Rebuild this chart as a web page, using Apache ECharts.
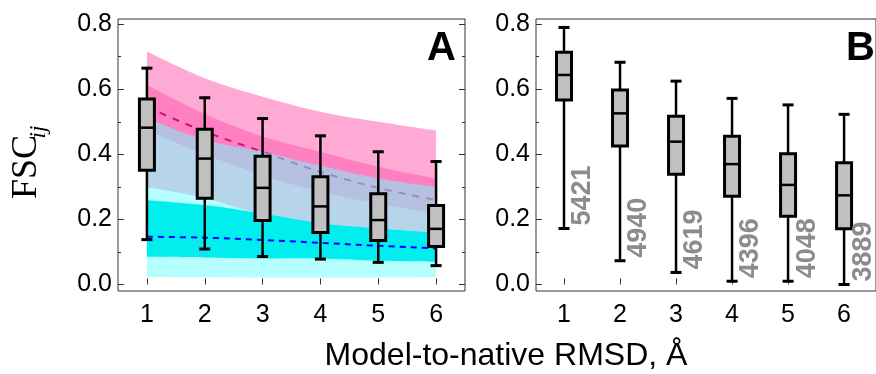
<!DOCTYPE html>
<html>
<head>
<meta charset="utf-8">
<script src="https://cdn.jsdelivr.net/npm/echarts@6/dist/echarts.min.js"></script>
<style>
  html, body { margin: 0; padding: 0; background: #fff; }
  #chart { width: 876px; height: 374px; }
</style>
</head>
<body>
<div id="chart"></div>
<script>
const rmsd = [1, 2, 3, 4, 5, 6]
const yTicks = [0, 0.2, 0.4, 0.6, 0.8]
const yMinorTicks = [0.1, 0.3, 0.5, 0.7]

// panel A box plots
const aMin = [0.138, 0.109, 0.086, 0.078, 0.068, 0.058]
const aQ1 = [0.351, 0.265, 0.197, 0.160, 0.135, 0.117]
const aMed = [0.482, 0.387, 0.297, 0.240, 0.198, 0.171]
const aQ3 = [0.570, 0.477, 0.394, 0.331, 0.279, 0.243]
const aMax = [0.665, 0.574, 0.510, 0.457, 0.408, 0.378]

// panel B box plots + counts
const bMin = [0.172, 0.073, 0.037, 0.010, 0.010, 0.000]
const bQ1 = [0.567, 0.426, 0.339, 0.271, 0.210, 0.171]
const bMed = [0.644, 0.526, 0.439, 0.370, 0.306, 0.274]
const bQ3 = [0.714, 0.598, 0.517, 0.456, 0.402, 0.374]
const bMax = [0.790, 0.683, 0.625, 0.572, 0.552, 0.523]
const bCounts = [5421, 4940, 4619, 4396, 4048, 3889]

// panel A shaded bands
const pinkOuterTop = [0.716, 0.634, 0.577, 0.531, 0.500, 0.473]
const pinkOuterBottom = [0.300, 0.266, 0.215, 0.185, 0.165, 0.150]
const pinkInnerTop = [0.613, 0.524, 0.455, 0.408, 0.362, 0.326]
const pinkInnerBottom = [0.475, 0.400, 0.335, 0.285, 0.248, 0.218]
const pinkMedian = [0.545, 0.470, 0.408, 0.346, 0.297, 0.259]
const cyanOuterTop = [0.511, 0.444, 0.408, 0.365, 0.326, 0.300]
const cyanOuterBottom = [0.023, 0.022, 0.021, 0.021, 0.021, 0.022]
const cyanInnerTop = [0.259, 0.244, 0.218, 0.188, 0.172, 0.159]
const cyanInnerBottom = [0.085, 0.083, 0.080, 0.080, 0.073, 0.070]
const blueMedian = [0.147, 0.144, 0.137, 0.128, 0.119, 0.111]

const font = '"Liberation Sans", Arial, sans-serif'
const serif = '"Liberation Serif", "Times New Roman", serif'

// smooth path through pixel points (catmull-rom -> bezier)
function curve(pts, cmd) {
  let d = cmd + pts[0][0] + ' ' + pts[0][1]
  for (let i = 0; i < pts.length - 1; i++) {
    const p0 = pts[i - 1] || pts[i]
    const p1 = pts[i]
    const p2 = pts[i + 1]
    const p3 = pts[i + 2] || p2
    const c1 = [p1[0] + (p2[0] - p0[0]) / 6, p1[1] + (p2[1] - p0[1]) / 6]
    const c2 = [p2[0] - (p3[0] - p1[0]) / 6, p2[1] - (p3[1] - p1[1]) / 6]
    d += ' C' + c1[0] + ' ' + c1[1] + ' ' + c2[0] + ' ' + c2[1] + ' ' + p2[0] + ' ' + p2[1]
  }
  return d
}

function band(lower, upper, fill, opacity) {
  return {
    type: 'custom', xAxisIndex: 0, yAxisIndex: 0, silent: true, z: 2,
    data: rmsd.map((x, i) => [x, lower[i], upper[i]]),
    encode: { x: 0, y: [1, 2] },
    renderItem: (params, api) => {
      if (params.dataIndexInside !== 0) return null
      const n = params.dataInsideLength
      const top = []
      const bot = []
      for (let i = 0; i < n; i++) {
        top.push(api.coord([api.value(0, i), api.value(2, i)]))
        bot.push(api.coord([api.value(0, i), api.value(1, i)]))
      }
      const d = curve(top, 'M') + ' ' + curve(bot.reverse(), 'L') + ' Z'
      return { type: 'path', shape: { pathData: d }, style: { fill, opacity } }
    }
  }
}

function medianLine(values, color, dash) {
  return {
    type: 'custom', xAxisIndex: 0, yAxisIndex: 0, silent: true, z: 2,
    data: rmsd.map((x, i) => [x, values[i]]),
    encode: { x: 0, y: 1 },
    renderItem: (params, api) => {
      if (params.dataIndexInside !== 0) return null
      const pts = []
      for (let i = 0; i < params.dataInsideLength; i++) {
        pts.push(api.coord([api.value(0, i), api.value(1, i)]))
      }
      return {
        type: 'path', shape: { pathData: curve(pts, 'M') },
        style: { fill: null, stroke: color, lineWidth: 2, lineDash: dash }
      }
    }
  }
}

function boxes(axisIdx, yIdx, mins, q1s, meds, q3s, maxs, counts) {
  return {
    type: 'custom', xAxisIndex: axisIdx, yAxisIndex: yIdx, silent: true, z: 5,
    data: rmsd.map((x, i) => [x, mins[i], q1s[i], meds[i], q3s[i], maxs[i]]),
    encode: { x: 0, y: [1, 2, 3, 4, 5] },
    renderItem: (params, api) => {
      const x = api.value(0)
      const pMin = api.coord([x, api.value(1)])
      const pQ1 = api.coord([x, api.value(2)])
      const pMed = api.coord([x, api.value(3)])
      const pQ3 = api.coord([x, api.value(4)])
      const pMax = api.coord([x, api.value(5)])
      const hw = 7.5
      const cw = 5.5
      const line = (x1, y1, x2, y2, w) => ({
        type: 'line', shape: { x1, y1, x2, y2 }, style: { stroke: '#000', lineWidth: w }
      })
      const children = [
        line(pMax[0], pMax[1], pMin[0], pMin[1], 2.5),
        line(pMax[0] - cw, pMax[1], pMax[0] + cw, pMax[1], 3),
        line(pMin[0] - cw, pMin[1], pMin[0] + cw, pMin[1], 3),
        {
          type: 'rect',
          shape: { x: pQ3[0] - hw, y: pQ3[1], width: hw * 2, height: pQ1[1] - pQ3[1] },
          style: { fill: '#c0c0c0', stroke: '#000', lineWidth: 3 }
        },
        line(pMed[0] - hw, pMed[1], pMed[0] + hw, pMed[1], 2.5)
      ]
      if (counts) {
        children.push({
          type: 'text', x: pMin[0] + 19, y: pMin[1] - 3, rotation: Math.PI / 2,
          style: {
            text: String(counts[params.dataIndex]), align: 'left', verticalAlign: 'middle',
            fill: '#8c8c8c', font: 'bold 27px ' + font
          }
        })
      }
      return { type: 'group', children }
    }
  }
}

function xAxis(grid, max) {
  return {
    gridIndex: grid, type: 'value', min: 0.5, max: max,
    axisLine: { show: false }, splitLine: { show: false },
    axisTick: { inside: true, length: 6, customValues: rmsd, lineStyle: { color: '#333' } },
    axisLabel: { customValues: rmsd, margin: 12, fontSize: 25, color: '#000', fontFamily: font }
  }
}

function yAxis(grid, position, values, len, labels) {
  return {
    gridIndex: grid, type: 'value', min: -0.02, max: 0.816, position: position,
    axisLine: { show: false }, splitLine: { show: false },
    axisTick: { inside: true, length: len, customValues: values, lineStyle: { color: '#333' } },
    axisLabel: {
      show: labels, customValues: values, margin: 6, fontSize: 25, color: '#000',
      fontFamily: font, formatter: v => v.toFixed(1)
    }
  }
}

const chart = echarts.init(document.getElementById('chart'))
const option = {
  animation: false,
  grid: [
    { left: 118, top: 19, width: 347, bottom: 83, show: true, borderColor: '#333', borderWidth: 1 },
    { left: 536, top: 19, width: 342, bottom: 83, show: true, borderColor: '#333', borderWidth: 1 }
  ],
  xAxis: [xAxis(0, 6.5), xAxis(1, 6.57)],
  yAxis: [
    yAxis(0, 'left', yTicks, 6, true),
    yAxis(0, 'left', yMinorTicks, 3, false),
    yAxis(0, 'right', yTicks, 6, false),
    yAxis(0, 'right', yMinorTicks, 3, false),
    yAxis(1, 'left', yTicks, 6, true),
    yAxis(1, 'left', yMinorTicks, 3, false)
  ],
  series: [
    band(pinkOuterBottom, pinkOuterTop, '#ffaad5', 1),
    band(pinkInnerBottom, pinkInnerTop, '#ff80c0', 1),
    medianLine(pinkMedian, '#c8186e', [7, 7]),
    band(cyanOuterBottom, cyanOuterTop, 'rgb(110,255,255)', 0.5),
    band(cyanInnerBottom, cyanInnerTop, '#00eeee', 1),
    medianLine(blueMedian, '#0000ff', [6, 5]),
    boxes(0, 0, aMin, aQ1, aMed, aQ3, aMax, null),
    boxes(1, 4, bMin, bQ1, bMed, bQ3, bMax, bCounts)
  ],
  graphic: [
    { type: 'text', z: 100, x: 441.5, y: 48.5, style: { text: 'A', font: 'bold 40px ' + font, fill: '#000', align: 'center', verticalAlign: 'middle' } },
    { type: 'text', z: 100, x: 846, y: 49, style: { text: 'B', font: 'bold 40px ' + font, fill: '#000', align: 'left', verticalAlign: 'middle' } },
    { type: 'text', z: 100, x: 27, y: 167, rotation: Math.PI / 2, style: { text: 'FSC', font: '36px ' + serif, fill: '#000', align: 'center', verticalAlign: 'middle' } },
    { type: 'text', z: 100, x: 39, y: 132, rotation: Math.PI / 2, style: { text: 'ij', font: 'italic 23px ' + serif, fill: '#000', align: 'center', verticalAlign: 'middle' } },
    { type: 'text', z: 100, x: 506, y: 356, style: { text: 'Model-to-native RMSD, Å', font: '32px ' + font, fill: '#000', align: 'center', verticalAlign: 'middle' } }
  ]
}
chart.setOption(option)
window.addEventListener('resize', () => chart.resize())
</script>
</body>
</html>
